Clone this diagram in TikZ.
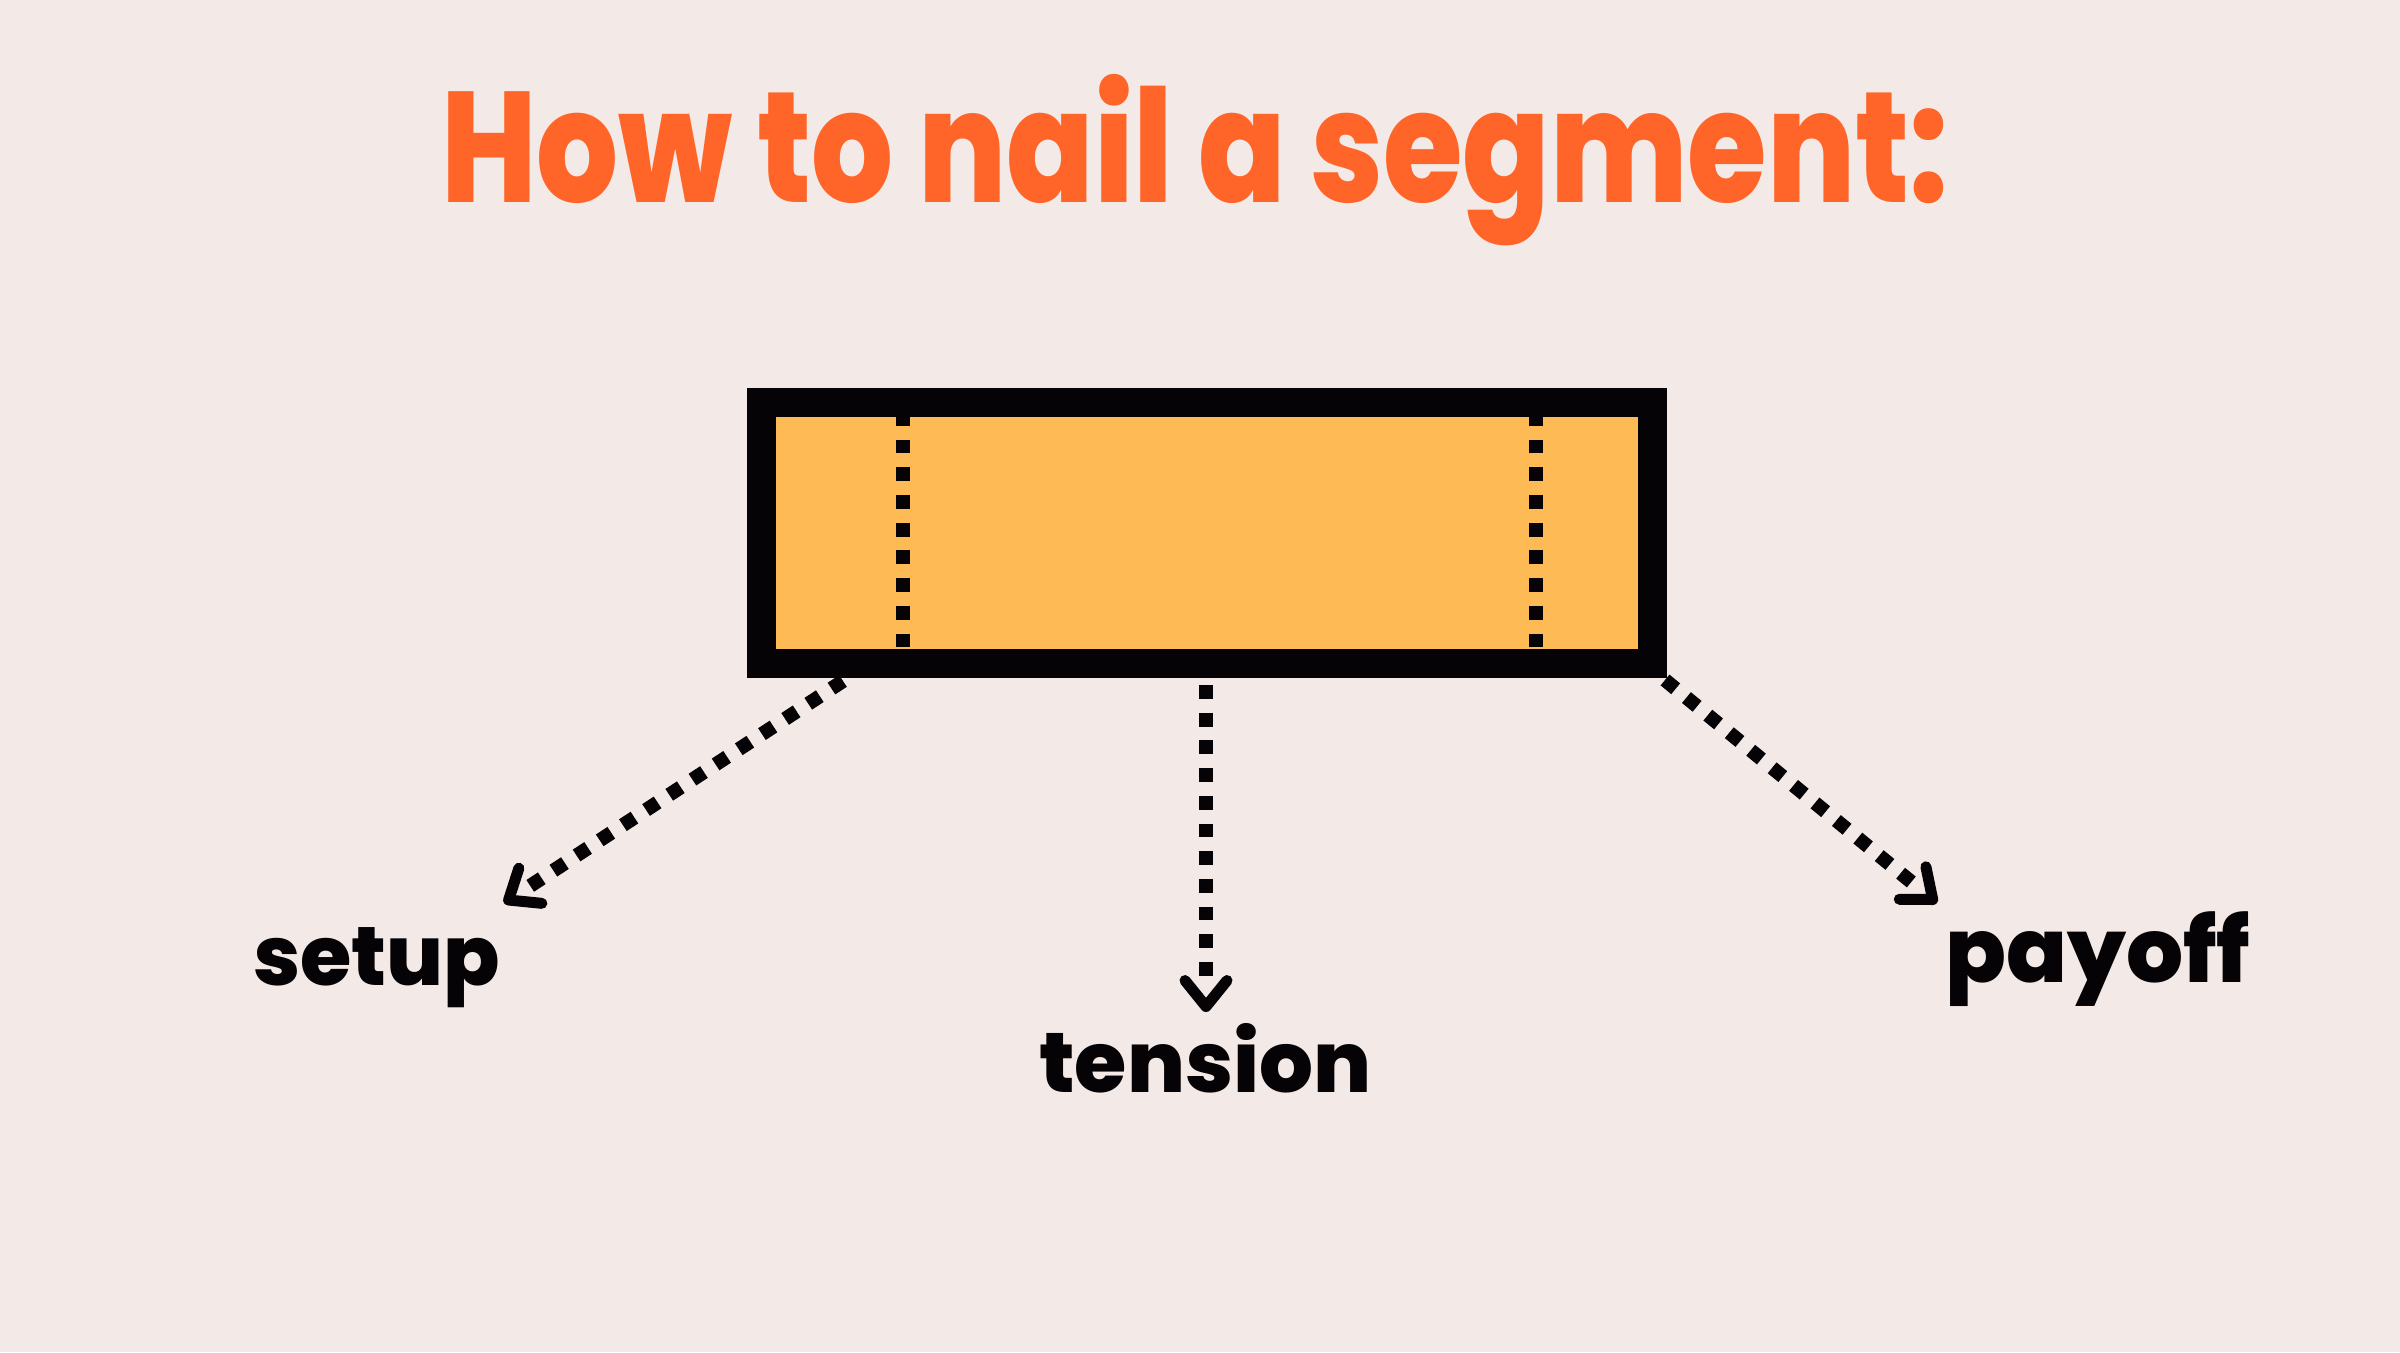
\documentclass[tikz,border=0pt]{standalone}
\usepackage{fontspec}
\setmainfont{Poppins}[BoldFont={Poppins ExtraBold}]
\usetikzlibrary{calc}
\definecolor{bg}{HTML}{F3EAE7}
\definecolor{titleorange}{HTML}{FF6428}
\definecolor{boxfill}{HTML}{FDBA55}
\definecolor{ink}{HTML}{050305}
\begin{document}
\begin{tikzpicture}[x=1pt,y=-1pt,
  segbox/.style={draw=ink, fill=boxfill, line width=29pt, minimum width=891pt, minimum height=261pt, inner sep=0pt},
  dotline/.style={draw=ink, line width=14pt, dash pattern=on 13.8pt off 13.9pt},
  lbl/.style={anchor=base west, inner sep=0pt, text=ink, font=\bfseries},
  chev/.pic={\draw[ink, line width=11pt, line cap=round, line join=round] (-26,21) -- (0,0) -- (-26,-21);}
]
\fill[bg] (0,0) rectangle (2400,1352);
\useasboundingbox (0,0) rectangle (2400,1352);
\node[anchor=base west, inner sep=0pt, text=titleorange, font=\bfseries] (title) at (441,202) {\resizebox{1507pt}{128pt}{How to nail a segment:}};
\node[segbox] (box) at (1207,533) {};
\coordinate (d1b) at (903,647.3);
\coordinate (d1t) at (903,402);
\coordinate (d2b) at (1536,647.3);
\coordinate (d2t) at (1536,402);
\draw[dotline] (d1b) -- (d1t);
\draw[dotline] (d2b) -- (d2t);
\node[lbl] (setup) at (253,985) {\resizebox{247pt}{!}{setup}};
\node[lbl] (tension) at (1039,1092) {\resizebox{332pt}{!}{tension}};
\node[lbl] (payoff) at (1945,982) {\resizebox{305pt}{!}{payoff}};
% connectors
\coordinate (ls) at (843,681);
\coordinate (lv) at (508.6,900);
\draw[dotline, shorten >=24pt] (ls) -- (lv);
\pic[rotate=-146.8] at (lv) {chev};
\coordinate (ms) at (1206,685);
\coordinate (mv) at (1206,1006.5);
\draw[dotline, shorten >=31pt] (ms) -- (mv);
\pic[rotate=-90] at (mv) {chev};
\coordinate (rs) at (1665,680);
\coordinate (rv) at (1932.7,899.5);
\draw[dotline, shorten >=26pt] (rs) -- (rv);
\pic[rotate=-39.35] at (rv) {chev};
\end{tikzpicture}
\end{document}
